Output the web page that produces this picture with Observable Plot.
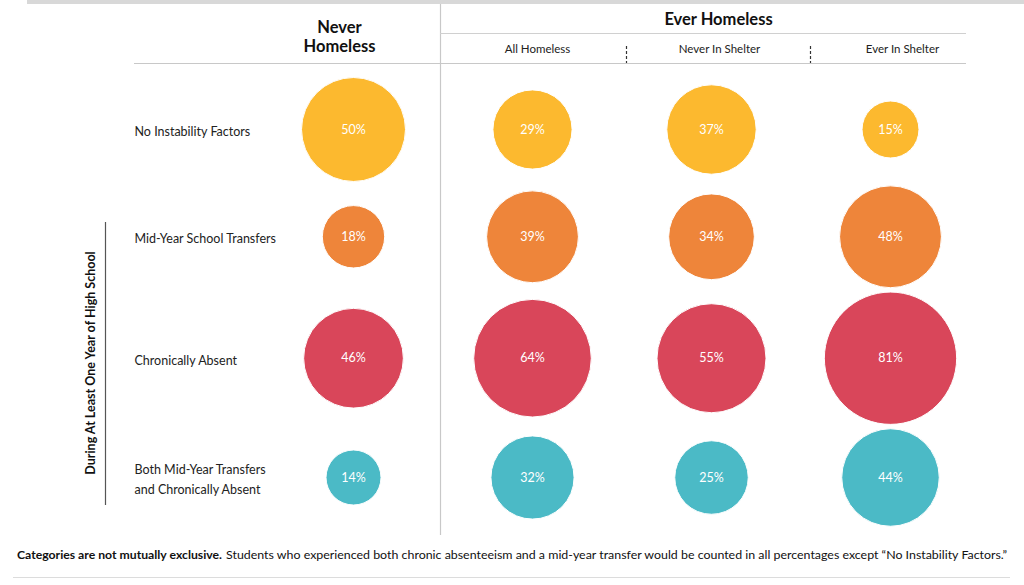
<!DOCTYPE html>
<html><head><meta charset="utf-8">
<script src="https://cdn.jsdelivr.net/npm/d3@7"></script>
<script src="https://cdn.jsdelivr.net/npm/@observablehq/plot@0.6"></script>
<style>body{margin:0;background:#fff} svg{display:block}</style>
</head><body><div id="chart"></div>
<script>
// ---- data ----
const columns = ["Never Homeless", "All Homeless", "Never In Shelter", "Ever In Shelter"];
const rows = ["No Instability Factors", "Mid-Year School Transfers", "Chronically Absent", "Both Mid-Year Transfers\nand Chronically Absent"];
const noInstability = [50, 29, 37, 15];
const midYearTransfers = [18, 39, 34, 48];
const chronicallyAbsent = [46, 64, 55, 81];
const bothFactors = [14, 32, 25, 44];
const subHeaders = ["All Homeless", "Never In Shelter", "Ever In Shelter"];
const rowColors = ["#FCB92F", "#EE853A", "#D9465A", "#4BBAC6"];

const series = [noInstability, midYearTransfers, chronicallyAbsent, bothFactors];

// row layout: stack rows by their largest bubble (in sqrt units), like a packed layout
const rowMax = series.map(s => Math.sqrt(d3.max(s)));
const gap = 0.6;
const rowPos = [0];
for (let i = 1; i < rows.length; i++) rowPos.push(rowPos[i - 1] + rowMax[i - 1] + rowMax[i] + gap);

const data = rows.flatMap((r, i) => columns.map((c, j) => ({row: r, pos: rowPos[i], col: c, value: series[i][j]})));
const labels = rows.map((r, i) => ({row: r, pos: rowPos[i]}));

const subDx = [5, 8, 12];
const font = "Lato, 'Open Sans', sans-serif";

const plot = Plot.plot({
  width: 1024, height: 585, margin: 0,
  style: {fontFamily: font, background: "white", overflow: "visible"},
  x: {type: "point", domain: columns, range: [353, 890], padding: 0, axis: null},
  y: {type: "linear", domain: [0, rowPos[rowPos.length - 1]], range: [129, 477], axis: null},
  r: {type: "sqrt", domain: [0, 100], range: [0, 73.5]},
  color: {type: "ordinal", domain: rows, range: rowColors},
  marks: [
    Plot.dot(data, {x: "col", y: "pos", r: "value", fill: "row", stroke: "white", strokeWidth: 1}),
    Plot.text(data, {x: "col", y: "pos", text: d => d.value + "%", fill: "white", fontSize: 12.5}),
    Plot.text(labels, {y: "pos", text: "row", frameAnchor: "left", dx: 134, textAnchor: "start", lineAnchor: "middle", fontSize: 12.5, fill: "#222", lineHeight: 1.6}),
    Plot.text([columns[0]], {x: d => d, text: () => "Never\nHomeless", frameAnchor: "top", lineAnchor: "middle", textAnchor: "middle", dy: 35.5, dx: -14, fontSize: 16.5, fontWeight: "bold", fill: "#111", lineHeight: 1.18}),
    Plot.text([columns[2]], {x: d => d, text: () => "Ever Homeless", frameAnchor: "top", lineAnchor: "middle", textAnchor: "middle", dy: 19, dx: 7, fontSize: 16.5, fontWeight: "bold", fill: "#111"}),
    ...subHeaders.map((s, i) => Plot.text([s], {x: d => d, text: d => d, frameAnchor: "top", lineAnchor: "middle", textAnchor: "middle", dy: 49, dx: subDx[i], fontSize: 11.5, fill: "#222"})),
    Plot.text(["During At Least One Year of High School"], {text: d => d, frameAnchor: "left", textAnchor: "middle", lineAnchor: "middle", dx: 90, dy: 70, rotate: -90, fontSize: 12.5, fontWeight: "bold", fill: "#111"})
  ]
});

// frame decorations
const svg = d3.select(plot);
const deco = svg.insert("g", ":first-child");
deco.append("rect").attr("x", 27).attr("y", 0).attr("width", 997).attr("height", 4).attr("fill", "#d8d8d8");
const line = (x1, y1, x2, y2, stroke, dash) => {
  const l = deco.append("line").attr("x1", x1).attr("y1", y1).attr("x2", x2).attr("y2", y2).attr("stroke", stroke).attr("stroke-width", 1.2);
  if (dash) l.attr("stroke-dasharray", dash);
};
line(440.5, 4, 440.5, 535, "#c8c8c8");
line(440, 33.5, 966, 33.5, "#d0d0d0");
line(134, 63.5, 966, 63.5, "#c8c8c8");
line(626.5, 46, 626.5, 63, "#333", "3,2");
line(810.5, 46, 810.5, 63, "#333", "3,2");
line(105.5, 222, 105.5, 505, "#555");
line(13, 577.5, 1010, 577.5, "#dcdcdc");

svg.append("text").attr("x", 17).attr("y", 559).attr("text-anchor", "start")
  .attr("font-family", font).attr("font-size", 10.5).attr("fill", "#111").attr("font-weight", "bold")
  .attr("textLength", 205).attr("lengthAdjust", "spacingAndGlyphs")
  .text("Categories are not mutually exclusive.");
svg.append("text").attr("x", 226).attr("y", 559).attr("text-anchor", "start")
  .attr("font-family", font).attr("font-size", 10.5).attr("fill", "#111")
  .attr("textLength", 781).attr("lengthAdjust", "spacingAndGlyphs")
  .text("Students who experienced both chronic absenteeism and a mid-year transfer would be counted in all percentages except \u201CNo Instability Factors.\u201D");

document.getElementById("chart").appendChild(plot);
</script>
</body></html>
